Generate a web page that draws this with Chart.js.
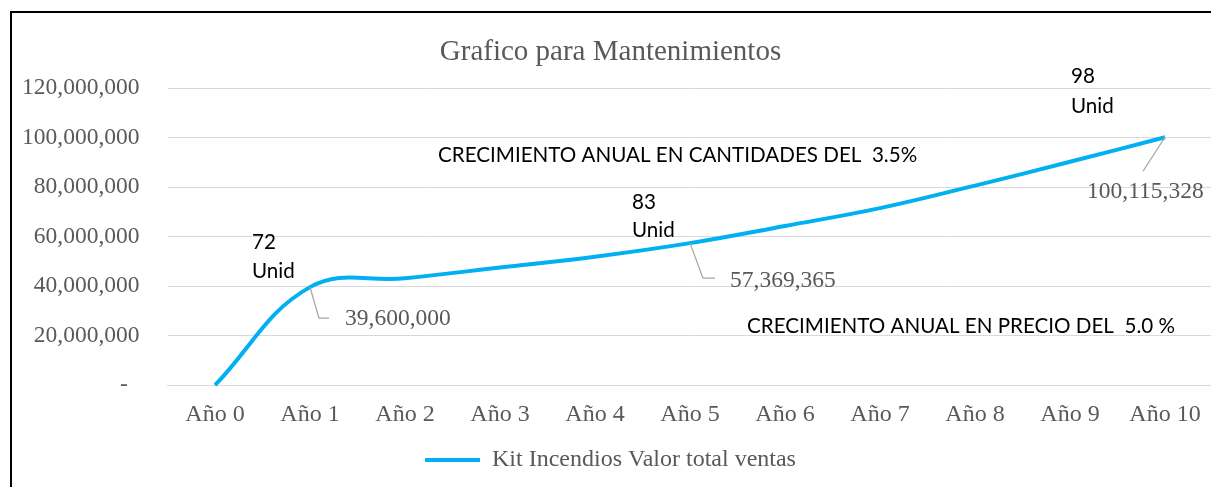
<!DOCTYPE html>
<html><head><meta charset="utf-8">
<script src="https://cdn.jsdelivr.net/npm/chart.js@4/dist/chart.umd.min.js"></script>
<style>
html,body{margin:0;padding:0;background:#fff;overflow:hidden;width:1211px;height:487px;}
#wrap{position:absolute;left:0;top:0;width:1221px;height:487px;}
#frameL{position:absolute;left:10px;top:11px;width:2px;height:480px;background:#000;}
#frameT{position:absolute;left:10px;top:11px;width:1210px;height:2px;background:#000;}
</style></head><body>
<div id="wrap"><canvas id="c" width="1221" height="487" style="width:1221px;height:487px"></canvas></div>
<div id="frameL"></div><div id="frameT"></div>
<script>
// ---- data ----
const categories = ['Año 0','Año 1','Año 2','Año 3','Año 4','Año 5','Año 6','Año 7','Año 8','Año 9','Año 10'];
const salesValues = [0, 39600000, 43200000, 47500000, 51900000, 57369365, 64300000, 71500000, 80600000, 90200000, 100115328];
const yTickValues = [0, 20000000, 40000000, 60000000, 80000000, 100000000, 120000000];
const labeledYears = [1, 5, 10];
const unitCounts = [72, 83, 98];
const seriesName = 'Kit Incendios Valor total ventas';
const chartTitle = 'Grafico para Mantenimientos';
const noteQuantity = 'CRECIMIENTO ANUAL EN CANTIDADES DEL  3.5%';
const notePrice = 'CRECIMIENTO ANUAL EN PRECIO DEL  5.0 %';
const unitWord = 'Unid';

// ---- layout/style (not data) ----
const SERIF = '"Liberation Serif", "Times New Roman", serif';
const SANS = 'Lato, "Liberation Sans", sans-serif';
const GRAY = '#595959';
const unitOffsets = [{dx:-58, dy1:-38, dy2:-9}, {dx:-58, dy1:-34, dy2:-6}, {dx:-94, dy1:-54, dy2:-24}];
const valueOffsets = [
  {tx:35, ty:38, leader:[[9,31],[19,31]]},
  {tx:40, ty:44, leader:[[13,35],[25,35]]},
  {tx:-78, ty:61, leader:[[-22,34]]}
];

const annotations = {
  id: 'annotations',
  afterDatasetsDraw(chart) {
    const ctx = chart.ctx;
    const pts = chart.getDatasetMeta(0).data;
    const ca = chart.chartArea;
    ctx.save();
    labeledYears.forEach((yr, i) => {
      const p = pts[yr];
      const o = valueOffsets[i];
      ctx.strokeStyle = '#a6a6a6';
      ctx.lineWidth = 1.3;
      ctx.beginPath();
      ctx.moveTo(p.x, p.y);
      o.leader.forEach(([dx, dy]) => ctx.lineTo(p.x + dx, p.y + dy));
      ctx.stroke();
      ctx.fillStyle = GRAY;
      ctx.font = '23.5px ' + SERIF;
      ctx.textAlign = 'left';
      ctx.textBaseline = 'alphabetic';
      ctx.fillText(salesValues[yr].toLocaleString('en-US'), p.x + o.tx, p.y + o.ty);
    });
    ctx.fillStyle = '#000';
    ctx.font = '20.6px ' + SANS;
    labeledYears.forEach((yr, i) => {
      const p = pts[yr];
      const o = unitOffsets[i];
      ctx.fillText(String(unitCounts[i]), p.x + o.dx, p.y + o.dy1);
      ctx.fillText(unitWord, p.x + o.dx, p.y + o.dy2);
    });
    ctx.fillText(noteQuantity, ca.left + 270.5, ca.top + 74);
    ctx.fillText(notePrice, ca.left + 579.5, ca.top + 245);
    ctx.restore();
  }
};

new Chart(document.getElementById('c'), {
  type: 'line',
  data: {
    labels: categories,
    datasets: [{
      label: seriesName,
      data: salesValues,
      borderColor: '#00B0F0',
      backgroundColor: '#00B0F0',
      borderWidth: 4,
      pointRadius: 0,
      pointHoverRadius: 0,
      tension: 0.4,
      fill: false,
      clip: 8
    }]
  },
  options: {
    responsive: false,
    animation: false,
    events: [],
    layout: { padding: { left: 8.5, right: 8.5, top: 0, bottom: 5 } },
    plugins: {
      title: {
        display: true,
        text: chartTitle,
        color: GRAY,
        font: { family: SERIF, size: 29, weight: 'normal' },
        padding: { top: 34.6, bottom: 18.6 }
      },
      legend: {
        display: true,
        position: 'bottom',
        labels: {
          usePointStyle: true,
          pointStyle: 'line',
          pointStyleWidth: 55,
          color: GRAY,
          font: { family: SERIF, size: 24 },
          padding: 4
        }
      },
      tooltip: { enabled: false }
    },
    scales: {
      x: {
        offset: true,
        grid: { display: false, drawTicks: false },
        border: { display: true, color: '#d9d9d9', width: 1 },
        ticks: { color: GRAY, font: { family: SERIF, size: 24 }, padding: 15, maxRotation: 0, autoSkip: false }
      },
      y: {
        min: 0,
        max: 120000000,
        afterBuildTicks(scale) { scale.ticks = yTickValues.map(v => ({ value: v })); },
        afterFit(scale) { scale.width = 159; },
        grid: { color: '#d9d9d9', lineWidth: 1, drawTicks: false },
        border: { display: false },
        ticks: {
          color: GRAY,
          font: { family: SERIF, size: 23.5 },
          padding: 28,
          callback: v => v === 0 ? '-\u2002' : v.toLocaleString('en-US')
        }
      }
    }
  },
  plugins: [annotations]
});
</script>
</body></html>
